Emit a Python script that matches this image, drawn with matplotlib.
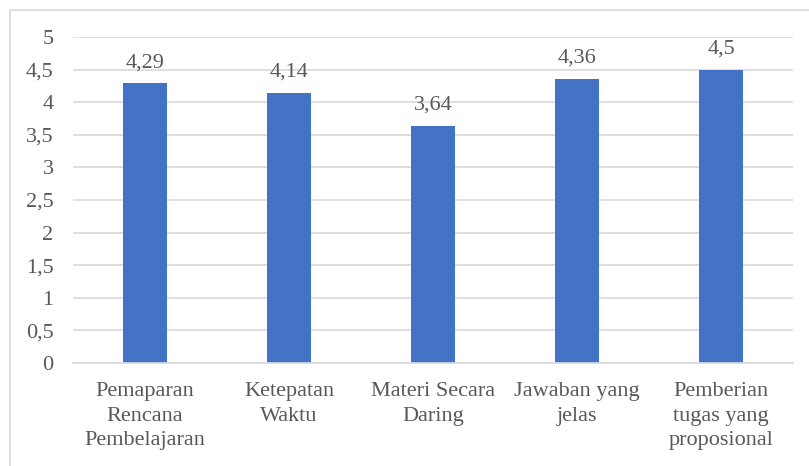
import matplotlib.pyplot as plt
from matplotlib.patches import Rectangle

categories = ["Pemaparan\nRencana\nPembelajaran", "Ketepatan\nWaktu",
              "Materi Secara\nDaring", "Jawaban yang\njelas",
              "Pemberian\ntugas yang\nproposional"]
values = [4.29, 4.14, 3.64, 4.36, 4.5]
yticks = [0, 0.5, 1, 1.5, 2, 2.5, 3, 3.5, 4, 4.5, 5]

plt.rcParams['font.family'] = ['Liberation Serif', 'DejaVu Serif']
text_col = '#595959'
grid_col = '#D9D9D9'

fig = plt.figure(figsize=(8.09, 4.66), dpi=100)
W, H = 809, 466
ax = fig.add_axes([73 / W, 1 - 363 / H, 720 / W, 326 / H])

x = range(len(categories))
bars = ax.bar(x, values, width=0.31, color='#4472C4', zorder=3)
for xi, v in zip(x, values):
    ax.annotate(str(v).replace('.', ','), (xi, v), xytext=(0, 8),
                textcoords='offset points', ha='center', va='bottom',
                fontsize=16, color=text_col)

ax.set_xlim(-0.5, len(categories) - 0.5)
ax.set_ylim(0, 5)
ax.set_yticks(yticks)
ax.set_yticklabels([str(t).replace('.', ',') if t % 1 else str(int(t)) for t in yticks])
ax.set_xticks(list(x))
ax.set_xticklabels(categories, linespacing=1.38)
ax.tick_params(axis='y', length=0, pad=14, labelsize=16, labelcolor=text_col)
ax.tick_params(axis='x', length=0, pad=14, labelsize=16, labelcolor=text_col)
ax.yaxis.grid(True, color=grid_col, linewidth=1.2, zorder=0)
for s in ['top', 'right', 'left']:
    ax.spines[s].set_visible(False)
ax.spines['bottom'].set_color(grid_col)
ax.spines['bottom'].set_linewidth(1.2)
ax.spines['bottom'].set_zorder(4)

fig.patches.append(Rectangle((10 / W, -0.02), 1.05, 1 - 10 / H + 0.02,
                             transform=fig.transFigure, fill=False,
                             edgecolor=grid_col, linewidth=1.2))

fig.savefig('out.png', dpi=100)
